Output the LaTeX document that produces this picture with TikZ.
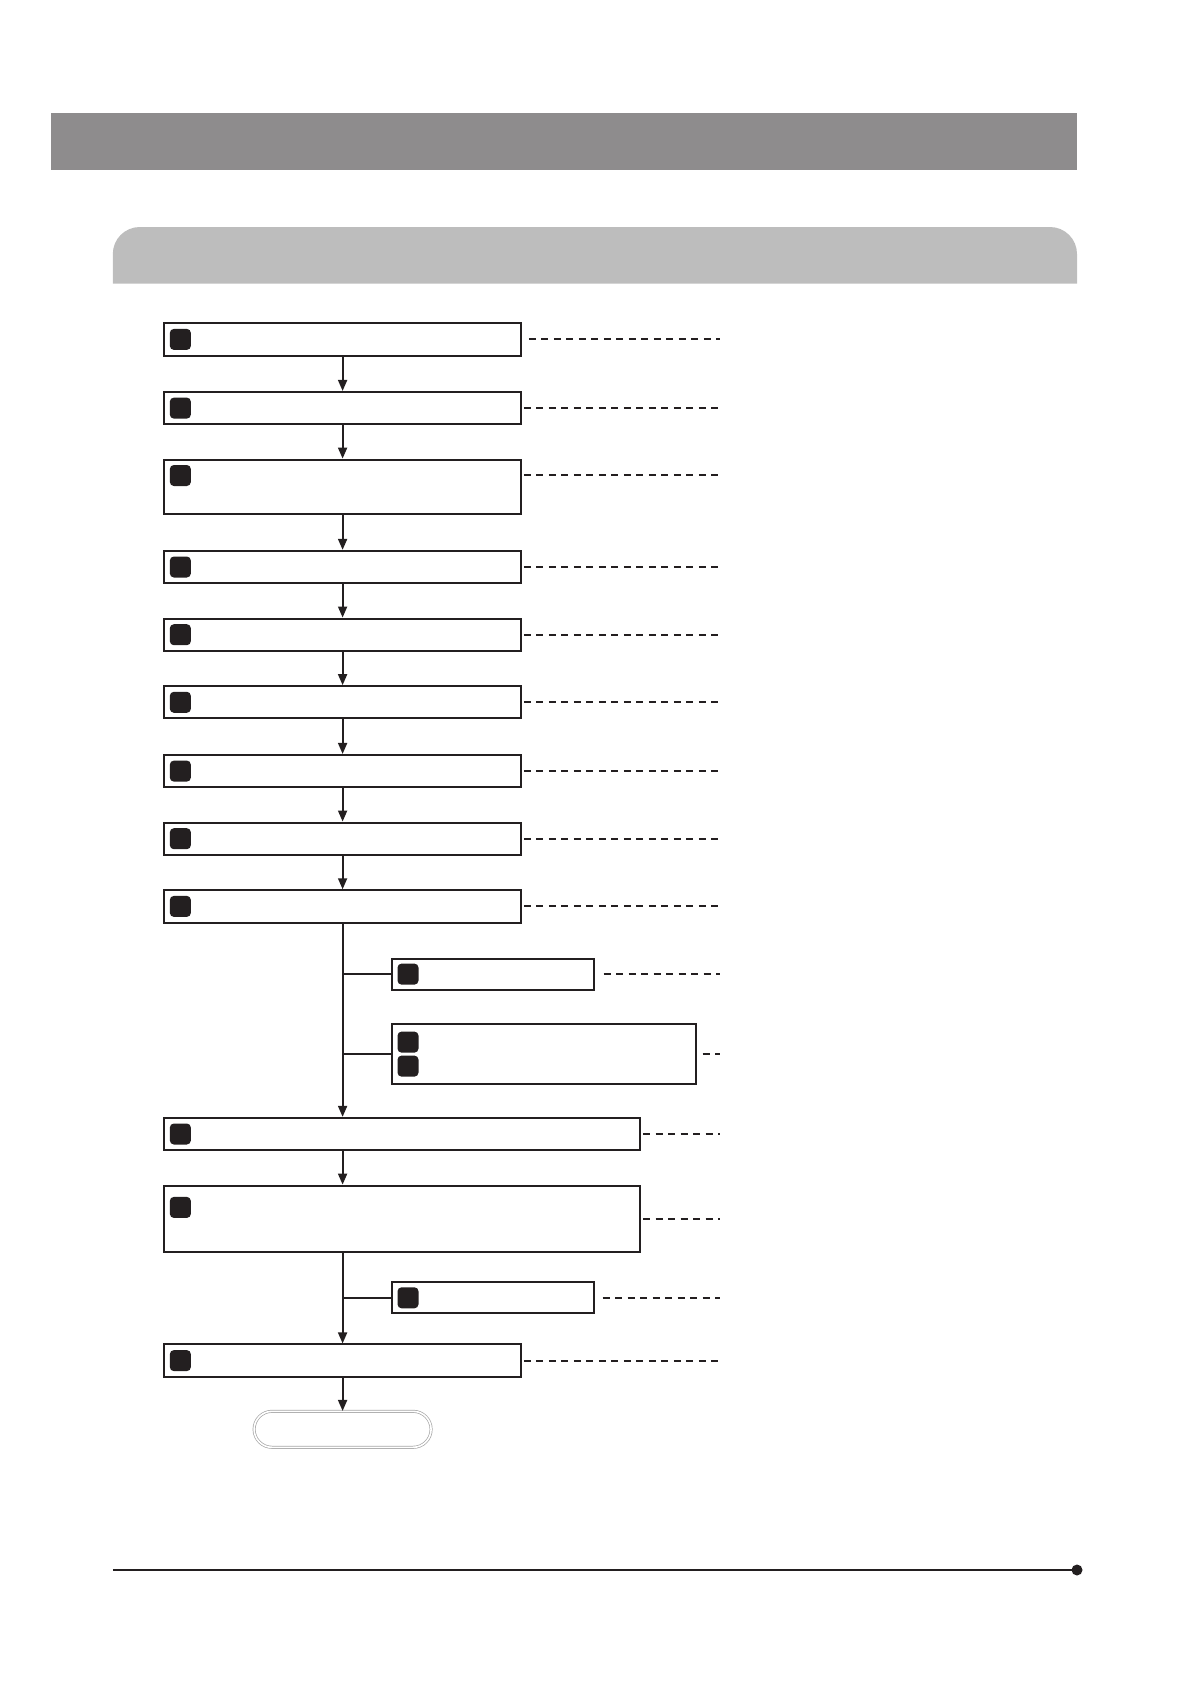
\documentclass[tikz,border=0pt]{standalone}
\usetikzlibrary{arrows.meta,calc}
\definecolor{bandA}{HTML}{8E8C8D}
\definecolor{bandB}{HTML}{BDBDBD}
\definecolor{ink}{HTML}{231F20}
\tikzset{
  stepbox/.style={draw=ink, line width=2pt, rectangle, inner sep=0pt, minimum width=356.5pt, minimum height=32.3pt},
  badge/.style={fill=ink, rounded corners=4pt, minimum size=21pt, inner sep=0pt},
  flow/.style={draw=ink, line width=1.8pt, -{Triangle[length=11pt,width=9pt]}},
  tie/.style={draw=ink, line width=1.8pt},
  dashline/.style={draw=ink, line width=1.9pt, dash pattern=on 7pt off 5.5pt},
  endbox/.style={draw=gray!70, double=white, double distance=1.6pt, line width=0.7pt, rounded corners=18pt, minimum width=177pt, minimum height=36pt, inner sep=0pt}
}
\begin{document}
\begin{tikzpicture}[x=1pt,y=-1pt]
\useasboundingbox (0,0) rectangle (1191,1684);
% header bands
\fill[bandA] (50.5,113) rectangle (1077,170);
\fill[bandB] (112.8,283.5) -- (112.8,254) arc[start angle=180,end angle=270,radius=27] -- (1050,227) arc[start angle=270,end angle=360,radius=27] -- (1077,283.5) -- cycle;
% main boxes
\node[stepbox] (b1) at (342.6,339.4) {};
\node[stepbox] (b2) at (342.6,408.1) {};
\node[stepbox, minimum height=54.8pt] (b3) at (342.6,487) {};
\node[stepbox] (b4) at (342.6,567) {};
\node[stepbox] (b5) at (342.6,634.7) {};
\node[stepbox] (b6) at (342.6,702.3) {};
\node[stepbox] (b7) at (342.6,771.1) {};
\node[stepbox] (b8) at (342.6,838.7) {};
\node[stepbox] (b9) at (342.6,906.4) {};
\node[stepbox, minimum width=202pt, minimum height=31pt] (bA) at (493,974.1) {};
\node[stepbox, minimum width=304pt, minimum height=60pt] (bB) at (544,1054.1) {};
\node[stepbox, minimum width=475.7pt] (b10) at (402.2,1134) {};
\node[stepbox, minimum width=475.7pt, minimum height=66.6pt] (b11) at (402.2,1218.9) {};
\node[stepbox, minimum width=202pt, minimum height=31pt] (bC) at (493,1297.8) {};
\node[stepbox] (b12) at (342.6,1360.6) {};
\node[endbox] (term) at (342.6,1429.3) {};
% badges
\node[badge] (k1) at ([xshift=17pt]b1.west) {};
\node[badge] (k2) at ([xshift=17pt]b2.west) {};
\node[badge] (k3) at ([xshift=17pt,yshift=11.5pt]b3.west) {};
\node[badge] (k4) at ([xshift=17pt]b4.west) {};
\node[badge] (k5) at ([xshift=17pt]b5.west) {};
\node[badge] (k6) at ([xshift=17pt]b6.west) {};
\node[badge] (k7) at ([xshift=17pt]b7.west) {};
\node[badge] (k8) at ([xshift=17pt]b8.west) {};
\node[badge] (k9) at ([xshift=17pt]b9.west) {};
\node[badge] (kA) at ([xshift=17pt]bA.west) {};
\node[badge] (kB1) at ([xshift=17pt,yshift=12pt]bB.west) {};
\node[badge] (kB2) at ([xshift=17pt,yshift=-12pt]bB.west) {};
\node[badge] (k10) at ([xshift=17pt]b10.west) {};
\node[badge] (k11) at ([xshift=17pt,yshift=11.5pt]b11.west) {};
\node[badge] (kC) at ([xshift=17pt]bC.west) {};
\node[badge] (k12) at ([xshift=17pt]b12.west) {};
% flow arrows
\draw[flow] (b1.south) -- (b2.north);
\draw[flow] (b2.south) -- (b3.north);
\draw[flow] (b3.south) -- (b4.north);
\draw[flow] (b4.south) -- (b5.north);
\draw[flow] (b5.south) -- (b6.north);
\draw[flow] (b6.south) -- (b7.north);
\draw[flow] (b7.south) -- (b8.north);
\draw[flow] (b8.south) -- (b9.north);
\draw[flow] (b9.south) -- (b9.south |- b10.north);
\draw[tie] (b9.south |- bA.west) -- (bA.west);
\draw[tie] (b9.south |- bB.west) -- (bB.west);
\draw[flow] (b10.south -| b9.south) -- (b11.north -| b9.south);
\draw[flow] (b11.south -| b9.south) -- (b12.north);
\draw[tie] (b9.south |- bC.west) -- (bC.west);
\draw[flow] (b12.south) -- (term.north);
% dashed leaders
\coordinate (e1) at (719.5,339.4);
\coordinate (e2) at (719.5,408.1);
\coordinate (e3) at (719.5,475.1);
\coordinate (e4) at (719.5,567);
\coordinate (e5) at (719.5,634.7);
\coordinate (e6) at (719.5,702.3);
\coordinate (e7) at (719.5,771.1);
\coordinate (e8) at (719.5,838.7);
\coordinate (e9) at (719.5,906.4);
\coordinate (eA) at (719.5,974.1);
\coordinate (eB) at (719.5,1054.1);
\coordinate (e10) at (719.5,1134);
\coordinate (e11) at (719.5,1218.9);
\coordinate (eC) at (719.5,1297.8);
\coordinate (e12) at (719.5,1360.6);
\draw[dashline] ([xshift=7pt]b1.east) -- (e1);
\draw[dashline] ([xshift=2pt]b2.east) -- (e2);
\draw[dashline] ([xshift=2pt]b3.east |- e3) -- (e3);
\draw[dashline] ([xshift=2pt]b4.east) -- (e4);
\draw[dashline] ([xshift=2pt]b5.east) -- (e5);
\draw[dashline] ([xshift=2pt]b6.east) -- (e6);
\draw[dashline] ([xshift=2pt]b7.east) -- (e7);
\draw[dashline] ([xshift=2pt]b8.east) -- (e8);
\draw[dashline] ([xshift=2pt]b9.east) -- (e9);
\draw[dashline] ([xshift=8.5pt]bA.east) -- (eA);
\draw[dashline] ([xshift=5.5pt]bB.east) -- (eB);
\draw[dashline] ([xshift=2pt]b10.east) -- (e10);
\draw[dashline] ([xshift=2pt]b11.east) -- (e11);
\draw[dashline] ([xshift=7.5pt]bC.east) -- (eC);
\draw[dashline] ([xshift=2pt]b12.east) -- (e12);
% footer rule
\coordinate (f0) at (112.8,1570);
\node[circle, fill=ink, inner sep=0pt, minimum size=11pt] (fdot) at (1077,1570) {};
\draw[draw=ink, line width=1.2pt] (f0) -- (fdot.center);
\end{tikzpicture}
\end{document}
